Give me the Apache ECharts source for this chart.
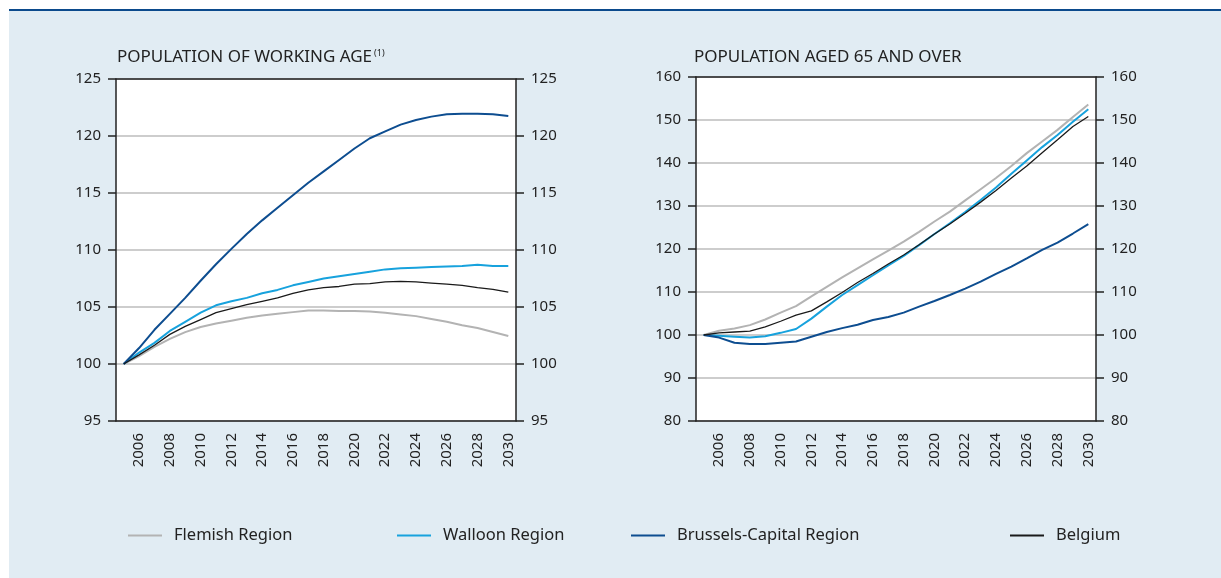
<!DOCTYPE html>
<html>
<head>
<meta charset="utf-8">
<script src="https://cdn.jsdelivr.net/npm/echarts@6/dist/echarts.min.js"></script>
<style>
  html, body { margin: 0; padding: 0; background: #fff; }
  #frame { position: absolute; left: 9px; top: 9px; width: 1212px; height: 567px;
           background: #e1ecf3; border-top: 2px solid #0b4a8c; }
  #main { position: absolute; left: 0; top: 0; width: 1221px; height: 578px; }
</style>
</head>
<body>
<div id="frame"></div>
<div id="main"></div>
<script>
// years on both charts
var years = ['2005','2006','2007','2008','2009','2010','2011','2012','2013','2014','2015','2016','2017',
             '2018','2019','2020','2021','2022','2023','2024','2025','2026','2027','2028','2029','2030'];

// population of working age, index 2005 = 100
var workFlemish  = [100, 100.7, 101.5, 102.2, 102.8, 103.25, 103.55, 103.8, 104.05, 104.25, 104.4, 104.55, 104.7,
                    104.7, 104.65, 104.65, 104.6, 104.5, 104.35, 104.2, 103.95, 103.7, 103.4, 103.15, 102.8, 102.45];
var workWalloon  = [100, 101.0, 101.85, 102.9, 103.7, 104.5, 105.15, 105.5, 105.8, 106.2, 106.5, 106.9, 107.2,
                    107.5, 107.7, 107.9, 108.1, 108.3, 108.4, 108.45, 108.5, 108.55, 108.6, 108.7, 108.6, 108.6];
var workBrussels = [100, 101.4, 103.0, 104.4, 105.8, 107.3, 108.75, 110.1, 111.4, 112.6, 113.7, 114.8, 115.9,
                    116.9, 117.9, 118.9, 119.8, 120.4, 121.0, 121.4, 121.7, 121.9, 121.95, 121.95, 121.9, 121.75];
var workBelgium  = [100, 100.8, 101.65, 102.6, 103.3, 103.9, 104.5, 104.85, 105.2, 105.5, 105.8, 106.2, 106.5,
                    106.7, 106.8, 107.0, 107.05, 107.2, 107.25, 107.2, 107.1, 107.0, 106.9, 106.7, 106.55, 106.3];

// population aged 65 and over, index 2005 = 100
var oldFlemish  = [100, 101.0, 101.5, 102.3, 103.6, 105.2, 106.7, 109.0, 111.2, 113.4, 115.5, 117.6, 119.6,
                   121.7, 124.0, 126.4, 128.7, 131.3, 133.9, 136.5, 139.3, 142.3, 145.0, 147.7, 150.7, 153.6];
var oldWalloon  = [100, 99.8, 99.6, 99.4, 99.7, 100.5, 101.4, 103.8, 106.6, 109.3, 111.6, 113.9, 116.2,
                   118.4, 120.9, 123.5, 126.0, 128.6, 131.4, 134.3, 137.5, 140.6, 143.7, 146.5, 149.6, 152.5];
var oldBrussels = [100, 99.4, 98.2, 97.9, 97.9, 98.2, 98.5, 99.6, 100.7, 101.6, 102.4, 103.5, 104.2,
                   105.2, 106.6, 107.9, 109.3, 110.8, 112.4, 114.2, 115.9, 117.8, 119.8, 121.5, 123.6, 125.8];
var oldBelgium  = [100, 100.5, 100.7, 100.9, 101.9, 103.2, 104.6, 105.6, 107.7, 109.9, 112.2, 114.3, 116.5,
                   118.6, 121.0, 123.5, 125.8, 128.3, 130.9, 133.6, 136.5, 139.3, 142.4, 145.4, 148.5, 150.8];

var names = ['Flemish Region', 'Walloon Region', 'Brussels-Capital Region', 'Belgium'];
var colors = ['#b3b3b3', '#17a2dd', '#0d4d90', '#1a1a1a'];
var widths = [2, 2, 2, 1.3];

var font = 'Noto Sans';
var txt = '#222';

var myChart = echarts.init(document.getElementById('main'));

function xAxes(gridIndex) {
    return [{
        type: 'category', gridIndex: gridIndex, data: years, boundaryGap: true,
        axisLine: { lineStyle: { color: '#222', width: 1.5 } },
        axisTick: { inside: true, length: 7, interval: 0, lineStyle: { color: '#222', width: 1.5 } },
        axisLabel: {
            rotate: 90, margin: 12, color: txt, fontFamily: font, fontSize: 15,
            interval: function (idx) { return idx % 2 === 1; }
        },
        splitLine: { show: false }
    }, {
        type: 'category', gridIndex: gridIndex, data: years, position: 'top',
        axisLine: { lineStyle: { color: '#222', width: 1.5 } },
        axisTick: { show: false }, axisLabel: { show: false }, splitLine: { show: false }
    }];
}

function yAxes(gridIndex, min, max, step) {
    var base = {
        type: 'value', gridIndex: gridIndex, min: min, max: max, interval: step,
        axisLine: { show: true, lineStyle: { color: '#222', width: 1.5 } },
        axisTick: { show: true, length: 8, lineStyle: { color: '#222', width: 1.5 } },
        axisLabel: { margin: 15, color: txt, fontFamily: font, fontSize: 15 }
    };
    var left = Object.assign({}, base, {
        position: 'left',
        splitLine: { show: true, lineStyle: { color: '#bdbdbd', width: 1.5 } }
    });
    var right = Object.assign({}, base, { position: 'right', splitLine: { show: false } });
    return [left, right];
}

function lines(data, xi, yi) {
    return data.map(function (d, i) {
        return {
            name: names[i], type: 'line', data: d, xAxisIndex: xi, yAxisIndex: yi,
            symbol: 'none', smooth: false, z: 3 + (i === 3 ? 1 : 0),
            lineStyle: { color: colors[i], width: widths[i] },
            itemStyle: { color: colors[i] }
        };
    });
}

var legendLeft = [128, 397, 631, 1010];

var option = {
    animation: false,
    title: [{
        left: 117, top: 49, padding: 0,
        text: '{a|POPULATION OF WORKING AGE}{s|(1)}',
        textStyle: {
            fontWeight: 'normal',
            rich: {
                a: { fontFamily: font, fontSize: 17, color: txt, fontWeight: 'normal' },
                s: { fontFamily: font, fontSize: 9, color: txt, fontWeight: 'normal',
                     verticalAlign: 'top', padding: [0, 0, 8, 2] }
            }
        }
    }, {
        left: 694, top: 49, padding: 0, text: 'POPULATION AGED 65 AND OVER',
        textStyle: { fontFamily: font, fontSize: 17, color: txt, fontWeight: 'normal' }
    }],
    legend: names.map(function (n, i) {
        return {
            data: [n], left: legendLeft[i], top: 527, padding: 0, icon: 'rect', itemWidth: 34, itemHeight: 2,
            textStyle: { fontFamily: font, fontSize: 16.5, color: txt, padding: [0, 0, 0, 7] }
        };
    }),
    grid: [
        { left: 116, top: 79, width: 400, height: 342, show: true, backgroundColor: '#fff', borderWidth: 0 },
        { left: 696, top: 77, width: 400, height: 344, show: true, backgroundColor: '#fff', borderWidth: 0 }
    ],
    xAxis: xAxes(0).concat(xAxes(1)),
    yAxis: yAxes(0, 95, 125, 5).concat(yAxes(1, 80, 160, 10)),
    series: lines([workFlemish, workWalloon, workBrussels, workBelgium], 0, 0)
        .concat(lines([oldFlemish, oldWalloon, oldBrussels, oldBelgium], 2, 2))
};

myChart.setOption(option);
</script>
</body>
</html>
